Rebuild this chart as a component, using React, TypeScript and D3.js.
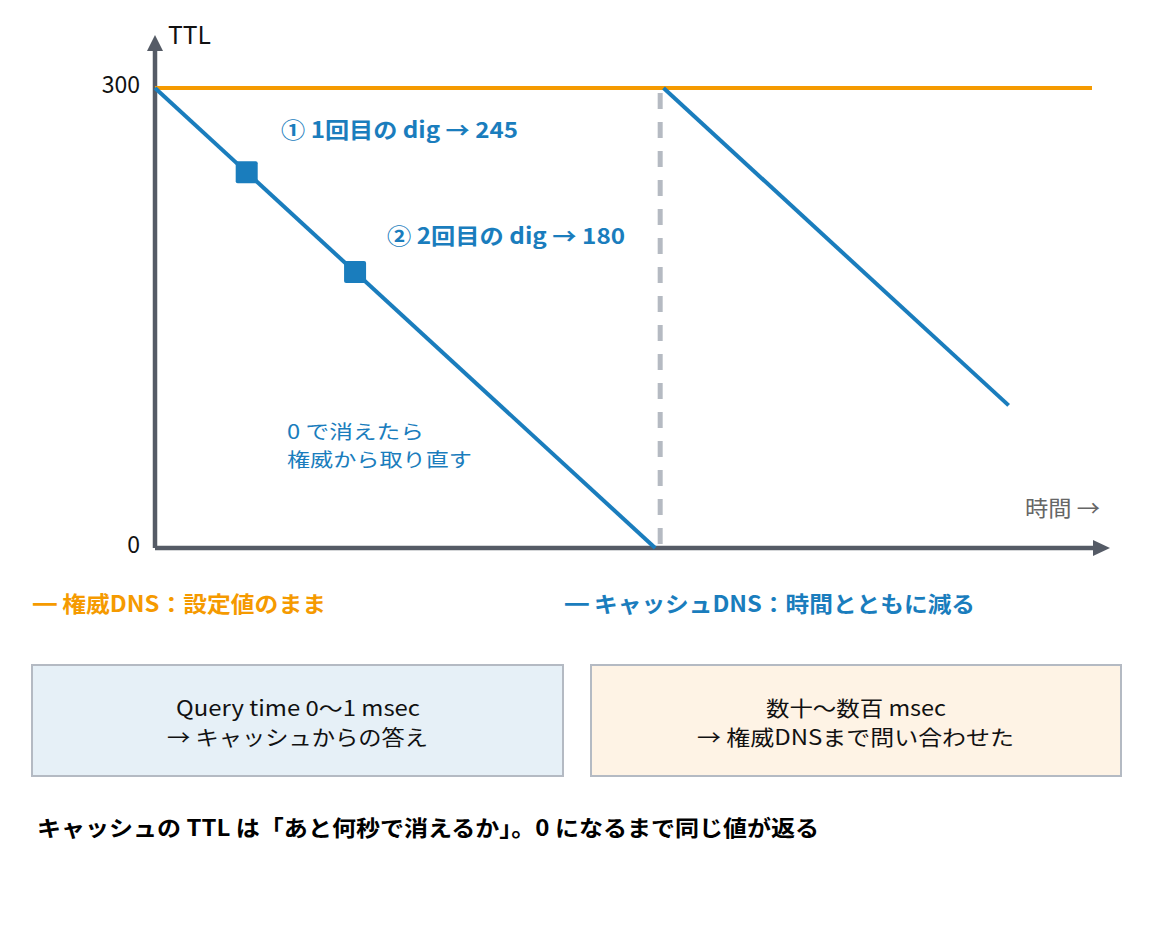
import React from "react";
import * as d3 from "d3";

const authTTL = [
  { t: 0, ttl: 300 },
  { t: 562, ttl: 300 },
];
const cacheCycle1 = [
  { t: 0, ttl: 300 },
  { t: 300, ttl: 0 },
];
const cacheCycle2 = [
  { t: 305, ttl: 300 },
  { t: 512, ttl: 93 },
];
const digPoints = [
  { t: 55, ttl: 245, label: "① 1回目の dig → 245" },
  { t: 120, ttl: 180, label: "② 2回目の dig → 180" },
];
const refetchT = 303;
const yTicks = [0, 300];

const ORANGE = "#F59A00";
const BLUE = "#1A7DBD";
const AXIS = "#555B66";
const FONT = "'Noto Sans CJK JP', 'Noto Sans', sans-serif";

type TProps = {
  x: number;
  y: number;
  w: number;
  size: number;
  fill: string;
  bold?: boolean;
  children: React.ReactNode;
};
function T({ x, y, w, size, fill, bold, children }: TProps) {
  return (
    <text
      x={x}
      y={y}
      fontSize={size}
      fontWeight={bold ? 700 : 400}
      fill={fill}
      textLength={w}
      lengthAdjust="spacingAndGlyphs"
    >
      {children}
    </text>
  );
}

export default function App() {
  const W = 1153;
  const H = 926;
  const x = d3.scaleLinear().domain([0, 562]).range([155, 1092]);
  const y = d3.scaleLinear().domain([0, 300]).range([548, 88]);
  const line = d3
    .line<{ t: number; ttl: number }>()
    .x((d) => x(d.t))
    .y((d) => y(d.ttl));

  const x0 = x(0);
  const y0 = y(0);

  return (
    <svg
      width={W}
      height={H}
      style={{ position: "absolute", left: 0, top: 0, background: "#fff" }}
      fontFamily={FONT}
    >
      <rect x={0} y={0} width={W} height={H} fill="#fff" />
      {/* axes */}
      <line x1={x0} y1={y0} x2={x0} y2={50} stroke={AXIS} strokeWidth={4.5} />
      <path d={`M${x0 - 8},51 L${x0},35 L${x0 + 8},51 Z`} fill={AXIS} />
      <line x1={x0} y1={y0} x2={1094} y2={y0} stroke={AXIS} strokeWidth={4.5} />
      <path d={`M1093,${y0 - 8} L1110,${y0} L1093,${y0 + 8} Z`} fill={AXIS} />
      <T x={168} y={44} w={43} size={24} fill="#111">TTL</T>
      {yTicks.map((v) => (
        <text key={v} x={140} y={y(v) + 5} fontSize={23} textAnchor="end" fill="#111">
          {v}
        </text>
      ))}
      <T x={1025} y={516} w={75} size={22} fill="#666">時間 →</T>

      {/* refetch dashed */}
      <line
        x1={x(refetchT)}
        y1={y(300) + 5}
        x2={x(refetchT)}
        y2={y0}
        stroke="#B5BAC2"
        strokeWidth={5}
        strokeDasharray="16 13"
      />

      {/* authoritative */}
      <path d={line(authTTL) || ""} stroke={ORANGE} strokeWidth={4} fill="none" />
      {/* cache */}
      <path d={line(cacheCycle1) || ""} stroke={BLUE} strokeWidth={4} fill="none" />
      <path d={line(cacheCycle2) || ""} stroke={BLUE} strokeWidth={4} fill="none" />

      {digPoints.map((p) => (
        <rect
          key={p.t}
          x={x(p.t) - 11}
          y={y(p.ttl) - 11}
          width={22}
          height={22}
          rx={2}
          fill={BLUE}
        />
      ))}
      <T x={281} y={138} w={237} size={22} fill={BLUE} bold>
        {digPoints[0].label}
      </T>
      <T x={387} y={244} w={238} size={22} fill={BLUE} bold>
        {digPoints[1].label}
      </T>
      <T x={287} y={439} w={137} size={19.5} fill={BLUE}>0 で消えたら</T>
      <T x={287} y={467} w={185} size={19.5} fill={BLUE}>権威から取り直す</T>

      {/* legend */}
      <T x={33} y={612} w={293} size={22} fill={ORANGE} bold>
        ━ 権威DNS：設定値のまま
      </T>
      <T x={565} y={612} w={410} size={22} fill={BLUE} bold>
        ━ キャッシュDNS：時間とともに減る
      </T>

      {/* boxes */}
      <rect x={32} y={665} width={531} height={111} fill="#E6F0F7" stroke="#B4BAC3" strokeWidth={2} />
      <T x={176} y={716} w={244} size={21} fill="#111">Query time 0〜1 msec</T>
      <T x={167} y={745} w={261} size={21} fill="#111">→ キャッシュからの答え</T>
      <rect x={591} y={665} width={530} height={111} fill="#FEF3E5" stroke="#B4BAC3" strokeWidth={2} />
      <T x={766} y={716} w={180} size={21} fill="#111">数十〜数百 msec</T>
      <T x={697} y={745} w={317} size={21} fill="#111">→ 権威DNSまで問い合わせた</T>

      <T x={37} y={836} w={782} size={22} fill="#000" bold>
        キャッシュの TTL は「あと何秒で消えるか」。0 になるまで同じ値が返る
      </T>
    </svg>
  );
}
